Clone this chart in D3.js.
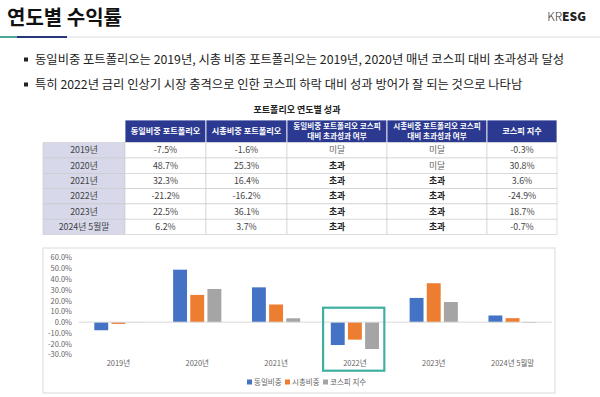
<!DOCTYPE html>
<html>
<head>
<meta charset="utf-8">
<script src="https://cdn.jsdelivr.net/npm/d3@7"></script>
<style>
  body { margin: 0; background: #fff; }
  svg { font-family: "Noto Sans CJK KR", "Noto Sans", sans-serif; display: block; }
</style>
</head>
<body>
<svg id="main" width="600" height="397"></svg>
<script>
// data
var years = ["2019년", "2020년", "2021년", "2022년", "2023년", "2024년 5월말"];
var seriesNames = ["동일비중", "시총비중", "코스피 지수"];
var equalW = [-7.5, 48.7, 32.3, -21.2, 22.5, 6.2];
var capW = [-1.6, 25.3, 16.4, -16.2, 36.1, 3.7];
var kospi = [-0.3, 30.8, 3.6, -24.9, 18.7, -0.7];
var beatEqual = ["미달", "초과", "초과", "초과", "초과", "초과"];
var beatCap = ["미달", "미달", "초과", "초과", "초과", "초과"];
var tableHeads = [["동일비중 포트폴리오"], ["시총비중 포트폴리오"],
  ["동일비중 포트폴리오 코스피", "대비 초과성과 여부"],
  ["시총비중 포트폴리오 코스피", "대비 초과성과 여부"], ["코스피 지수"]];
var yTicks = [60, 50, 40, 30, 20, 10, 0, -10, -20, -30];
var bullets = ["동일비중 포트폴리오는 2019년, 시총 비중 포트폴리오는 2019년, 2020년 매년 코스피 대비 초과성과 달성",
  "특히 2022년 금리 인상기 시장 충격으로 인한 코스피 하락 대비 성과 방어가 잘 되는 것으로 나타남"];

var colors = ["#4472c4", "#ed7d31", "#a5a5a5"];
var svg = d3.select("#main");

// header
svg.append("text").attr("x", 7).attr("y", 25)
  .style("font-size", "20px").style("font-weight", "700").attr("fill", "#111")
  .text("연도별 수익률");
var logo = svg.append("text").attr("x", 586).attr("y", 21).attr("text-anchor", "end")
  .style("font-size", "12px").attr("fill", "#333");
logo.append("tspan").style("font-weight", "300").text("KR");
logo.append("tspan").style("font-weight", "900").attr("fill", "#222").text("ESG");

svg.append("line").attr("x1", 0).attr("x2", 600).attr("y1", 37).attr("y2", 37)
  .attr("stroke", "#dcdcdc").attr("stroke-width", 1);
svg.append("line").attr("x1", 0).attr("x2", 17).attr("y1", 37).attr("y2", 37)
  .attr("stroke", "#4aa89a").attr("stroke-width", 2);
svg.append("line").attr("x1", 17).attr("x2", 67).attr("y1", 37).attr("y2", 37)
  .attr("stroke", "#25367a").attr("stroke-width", 2);

// bullets
bullets.forEach(function(b, i) {
  var yy = 60 + i * 25;
  svg.append("rect").attr("x", 24).attr("y", yy - 2.5).attr("width", 4).attr("height", 4).attr("fill", "#222");
  svg.append("text").attr("x", 35).attr("y", yy).attr("dy", "0.35em")
    .style("font-size", "12.3px").attr("fill", "#222").text(b);
});

// table
svg.append("text").attr("x", 297).attr("y", 110).attr("dy", "0.35em").attr("text-anchor", "middle")
  .style("font-size", "9px").style("font-weight", "700").attr("fill", "#222")
  .text("포트폴리오 연도별 성과");

var colX = [43, 125, 206, 287, 387, 487, 557];
var headTop = 120, headH = 22.7, rowH = 15.3;
var fmt = function(v) { return v.toFixed(1) + "%"; };

tableHeads.forEach(function(h, i) {
  svg.append("rect").attr("x", colX[i + 1]).attr("y", headTop)
    .attr("width", colX[i + 2] - colX[i + 1]).attr("height", headH)
    .attr("fill", "#2b3990").attr("stroke", "#fff").attr("stroke-width", 0.8);
  h.forEach(function(line, j) {
    svg.append("text").attr("x", (colX[i + 1] + colX[i + 2]) / 2)
      .attr("y", headTop + headH / 2 + (j - (h.length - 1) / 2) * 9.6).attr("dy", "0.35em")
      .attr("text-anchor", "middle").style("font-size", h.length > 1 ? "7.6px" : "8.2px").style("font-weight", "700")
      .attr("fill", "#fff").text(line);
  });
});

years.forEach(function(yr, r) {
  var y0 = headTop + headH + r * rowH;
  var cells = [yr, fmt(equalW[r]), fmt(capW[r]), beatEqual[r], beatCap[r], fmt(kospi[r])];
  cells.forEach(function(c, i) {
    svg.append("rect").attr("x", colX[i]).attr("y", y0)
      .attr("width", colX[i + 1] - colX[i]).attr("height", rowH)
      .attr("fill", i == 0 ? "#d7d9ea" : "#fff").attr("stroke", "#c9c9c9").attr("stroke-width", 0.6);
    var bold = c == "초과";
    svg.append("text").attr("x", (colX[i] + colX[i + 1]) / 2).attr("y", y0 + rowH / 2).attr("dy", "0.35em")
      .attr("text-anchor", "middle").style("font-size", "8.8px")
      .style("font-weight", bold ? "700" : "400")
      .attr("fill", bold ? "#222" : (c == "미달" ? "#666" : "#444")).text(c);
  });
});

// chart frame
svg.append("rect").attr("x", 43).attr("y", 248).attr("width", 512).attr("height", 145)
  .attr("fill", "none").attr("stroke", "#d9d9d9").attr("stroke-width", 1);

var x0 = d3.scaleBand().domain(years).range([79, 552]);
var x1 = d3.scaleBand().domain(seriesNames).range([15.3, 63.5]).paddingInner(0.19);
var y = d3.scaleLinear().domain([-30, 60]).range([354.5, 257.5]);

var yAxis = svg.append("g").attr("transform", "translate(73,0)")
  .call(d3.axisLeft(y).tickValues(yTicks).tickSize(0).tickPadding(1).tickFormat(function(d) { return d.toFixed(1) + "%"; }));
yAxis.select(".domain").remove();
yAxis.selectAll("text").style("font-size", "7.5px").attr("fill", "#666")
  .style("font-family", "'Noto Sans CJK KR', sans-serif");

var allSeries = [equalW, capW, kospi];
var groups = svg.append("g").selectAll("g").data(years).enter().append("g")
  .attr("transform", function(d) { return "translate(" + x0(d) + ",0)"; });
groups.selectAll("rect")
  .data(function(d, i) { return allSeries.map(function(s, k) { return {k: k, v: s[i]}; }); })
  .enter().append("rect")
  .attr("x", function(d) { return x1(seriesNames[d.k]); })
  .attr("width", x1.bandwidth())
  .attr("y", function(d) { return y(Math.max(0, d.v)); })
  .attr("height", function(d) { return Math.abs(y(d.v) - y(0)); })
  .attr("fill", function(d) { return colors[d.k]; });

svg.append("line").attr("x1", 79).attr("x2", 552).attr("y1", y(0)).attr("y2", y(0))
  .attr("stroke", "#d9d9d9").attr("stroke-width", 1);

var xAxis = svg.append("g").attr("transform", "translate(0,361)")
  .call(d3.axisBottom(x0).tickSize(0).tickPadding(0));
xAxis.select(".domain").remove();
xAxis.selectAll("text").style("font-size", "7.5px").attr("fill", "#666")
  .style("font-family", "'Noto Sans CJK KR', sans-serif");

// highlight box around 2022
svg.append("rect").attr("x", x0("2022년") + 7.6).attr("y", 307.7)
  .attr("width", x0.bandwidth() - 17.6).attr("height", 63)
  .attr("fill", "none").attr("stroke", "#3fb0a0").attr("stroke-width", 2.2);

// legend
var legX = [247, 285, 323];
seriesNames.forEach(function(s, i) {
  svg.append("rect").attr("x", legX[i]).attr("y", 379.5).attr("width", 5).attr("height", 5).attr("fill", colors[i]);
  svg.append("text").attr("x", legX[i] + 7).attr("y", 382).attr("dy", "0.35em")
    .style("font-size", "7.5px").attr("fill", "#666").text(s);
});
</script>
</body>
</html>
